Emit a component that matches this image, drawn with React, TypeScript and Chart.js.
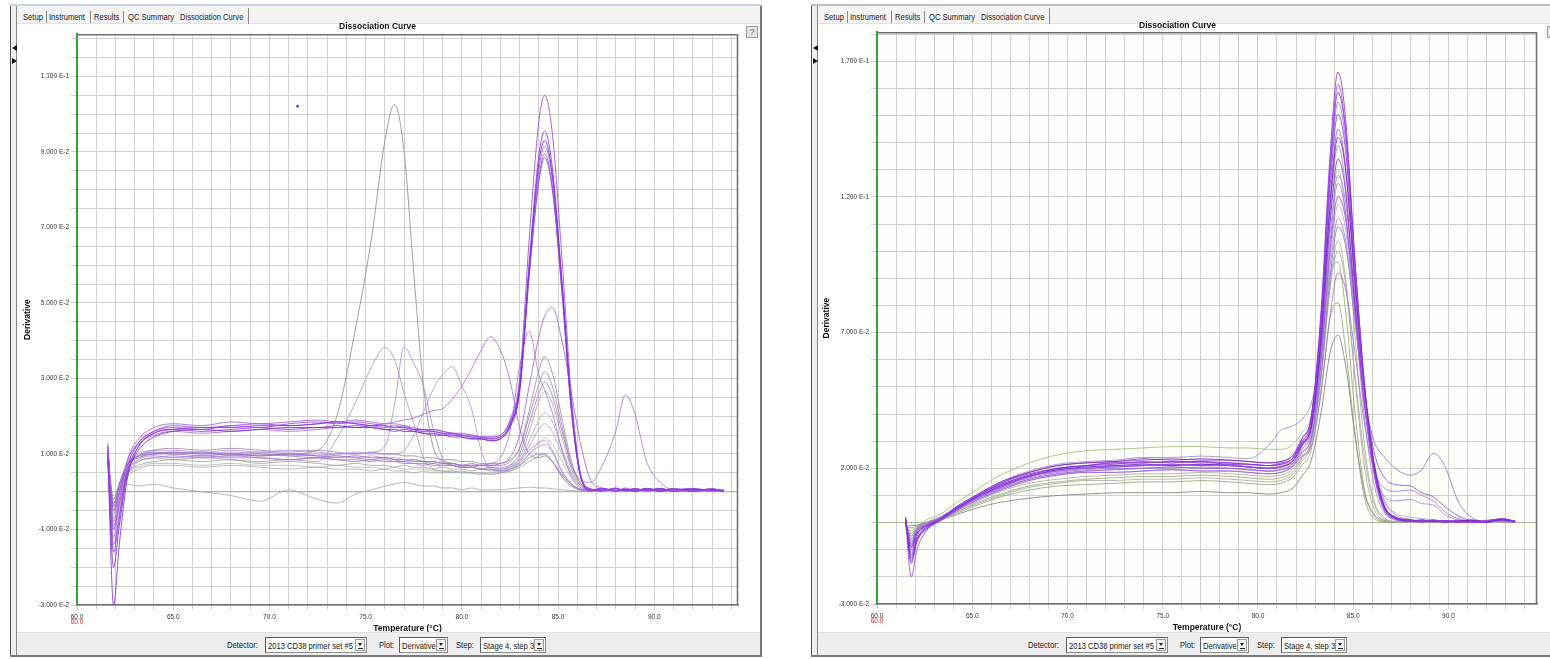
import { useEffect, useRef } from 'react';
import { Chart, registerables } from 'chart.js';

Chart.register(...registerables);

const SANS = '"Liberation Sans", Arial, sans-serif';

// ---------------------------------------------------------------------------
// Plate 1 – melt temperatures (°C) and derivative readings (units of 1E-3)
// ---------------------------------------------------------------------------
const TEMP_A = [61.6, 61.9, 62.2, 62.6, 63.2, 64, 65, 66.5, 68, 69.5, 71, 72.5, 73.5, 74.5, 75.3, 76, 76.5, 77, 77.5, 78, 78.5, 79, 79.5, 80, 80.5, 81, 81.5, 82, 82.5, 83, 83.5, 84, 84.3, 84.7, 85.2, 85.7, 86.2, 86.7, 87.3, 88, 88.5, 89, 89.6, 90.3, 91, 92, 93, 93.6];

const A_P1 = [12, -14, -6, 6, 13, 16, 17, 16.5, 17.5, 17, 18, 18.5, 18, 18.5, 18, 17.5, 17, 17.5, 16.5, 16, 16.5, 16, 15.5, 15, 15, 14.5, 14.5, 15, 19, 30, 67, 98, 105, 95, 62, 25, 4, 0.5, 0.8, 0.2, 1, 0.3, 0.8, 0, 0.6, 0.2, 0.8, 0];
const A_P2 = [10, -30, -14, 3, 12, 15.5, 16.5, 17, 17, 17.5, 17.5, 18, 18.5, 18, 17.5, 17.5, 17, 17, 16.5, 16.5, 16, 15.5, 15.5, 15, 14.5, 14.5, 14, 14.5, 18, 28, 61, 89, 95.5, 86, 56, 23, 4, 0.8, 0.3, 1, 0.2, 0.8, 0.3, 0.9, 0.1, 0.7, 0.4, 0.2];
const A_P3 = [8, -20, -9, 4, 11, 14.5, 16, 16.5, 16, 16.5, 17, 17, 17.5, 17, 17, 16.5, 16.5, 16, 16, 15.5, 15.5, 15, 15, 14.5, 14, 14, 13.5, 14, 17.5, 27, 59, 87, 93, 84, 55, 22, 3.5, 0.4, 0.9, 0.3, 0.7, 0.1, 0.9, 0.4, 0.8, 0.1, 0.6, 0.3];
const A_P4 = [13, -10, -3, 8, 14, 17, 18, 17.5, 18.5, 18, 18.5, 19, 18.5, 19, 18.5, 18, 18, 17.5, 17, 16.5, 16.5, 16, 15.5, 15.5, 15, 14.5, 14.5, 15, 18.5, 28, 59, 85, 91.5, 83, 55, 22, 3.5, 0.6, 0.2, 0.8, 0.4, 0.9, 0.2, 0.6, 0.3, 0.8, 0.2, 0.5];
const A_P5 = [11, -5, 0, 8, 13, 16, 17.5, 17, 17.5, 18, 17.5, 18, 18.5, 18, 17.5, 17, 17.5, 17, 16.5, 16, 16, 15.5, 15, 15, 14.5, 14, 14, 14.5, 17.5, 27, 58, 83, 89.5, 81, 53, 21, 3.5, 0.5, 0.8, 0.2, 0.6, 0.3, 0.8, 0.1, 0.5, 0.9, 0.3, 0.4];
const A_P6 = [9, -16, -7, 5, 12, 15.5, 16.5, 16, 16.5, 17, 16.5, 17, 17, 17.5, 17, 16.5, 16, 16.5, 16, 15.5, 15, 15, 14.5, 14.5, 14, 14, 13.5, 14, 17, 26, 57, 82, 88.5, 80, 53, 21, 3.5, 0.7, 0.3, 0.9, 0.2, 0.7, 0.4, 0.8, 0.2, 0.6, 0.5, 0.1];

const A_G1 = [11, -4, 2, 7, 9.5, 10.5, 10, 10.5, 9.5, 10, 9.5, 9, 9.5, 9, 8.5, 9, 8.5, 8, 8.5, 8, 7.5, 8, 7.5, 7, 7.5, 7, 7, 7, 8, 11.5, 21.5, 32, 35.8, 31.5, 19.5, 8, 2, 0.5, 0.2, 0.7, 0.3, 0.8, 0.1, 0.6, 0.4, 0.2, 0.7, 0.3];
const A_G2 = [12, -8, -1, 6, 9.5, 11, 11.5, 11, 11.5, 11, 10.5, 11, 10.5, 10, 10.5, 10, 10, 9.5, 9.5, 9, 9, 8.5, 8.5, 8, 8, 7.5, 7.5, 7.5, 8.5, 11.5, 20, 28.5, 31.8, 28, 17.5, 7, 2, 0.4, 0.8, 0.2, 0.6, 0.3, 0.9, 0.2, 0.5, 0.8, 0.1, 0.4];
const A_G3 = [9, -12, -4, 4, 8, 9, 9.5, 9, 9.5, 9, 8.5, 9, 8.5, 8.5, 8, 8.5, 8, 8, 7.5, 7.5, 7, 7, 7, 6.5, 6.5, 6, 6.5, 6, 7, 10, 18, 26, 29, 25.5, 16, 7, 3, 2.5, 7, 16, 25.7, 20.5, 8, 2.5, 0.5, 0.3, 0.8, 0.2];
const A_G4 = [8, -3, 1, 5, 7, 8, 8.5, 8, 8.5, 7.5, 8, 7.5, 7, 7.5, 7, 7, 6.5, 7, 6.5, 6.5, 6, 6.5, 6, 6, 5.5, 6, 5.5, 5.5, 6.5, 9, 16, 24, 26.5, 23.5, 14.5, 6, 1.5, 0.3, 0.7, 0.2, 0.6, 0.1, 0.7, 0.3, 0.8, 0.2, 0.5, 0.1];
const A_G5 = [6, -2, 1, 4, 6, 7, 7, 6.5, 7, 6.5, 6, 6.5, 6, 6, 5.5, 6, 5.5, 5.5, 5, 5.5, 5, 5, 5.5, 5, 5, 4.5, 5, 5, 6, 8, 13.5, 19, 21, 18.5, 11.5, 5, 1.5, 0.3, 0.6, 0.2, 0.5, 0.2, 0.6, 0.1, 0.4, 0.7, 0.2, 0.3];
const A_G6 = [10, -6, 0, 6, 9, 10, 10.5, 10, 10.5, 10, 9.5, 10, 9.5, 9, 9.5, 9, 9, 8.5, 8.5, 8, 8, 7.5, 7.5, 7, 7, 7, 6.5, 6.5, 7, 8.5, 12, 16.5, 18, 16, 10, 4.5, 1.5, 0.5, 0.2, 0.7, 0.3, 0.6, 0.2, 0.8, 0.3, 0.5, 0.1, 0.4];
const A_G7 = [7, -1, 2, 5, 6.5, 7.5, 7.5, 7, 7.5, 7, 7, 6.5, 7, 6.5, 6.5, 6, 6.5, 6, 6, 6, 5.5, 5.5, 5.5, 5, 5, 5, 5, 5, 5.5, 7, 10, 13, 14.3, 12.5, 8, 3.5, 1, 0.3, 0.6, 0.1, 0.5, 0.2, 0.6, 0.3, 0.1, 0.5, 0.3, 0.2];

const A_S1 = [10, -2, 2, 7, 9, 10, 10, 9.5, 10, 9.5, 10, 11, 20, 44, 67, 93, 102.6, 90, 58, 28, 12, 8, 7, 6.5, 6.5, 6, 6, 5.5, 6, 7, 9, 10, 10, 8, 4, 1.5, 0.5, 0.2, 0.6, 0.2, 0.5, 0.1, 0.6, 0.3, 0.5, 0.1, 0.4, 0.2];
const A_S2 = [9, -3, 1, 6, 8, 9, 8.5, 9, 8.5, 8, 8.5, 8, 14, 24, 33, 38.2, 35, 26, 18, 9, 6, 5.5, 5, 5.5, 5, 5, 4.5, 5, 5.5, 6.5, 8, 9.5, 10, 8, 4, 1.5, 0.4, 0.2, 0.6, 0.1, 0.5, 0.3, 0.7, 0.1, 0.4, 0.6, 0.2, 0.3];
const A_S3 = [10, -7, 0, 7, 9.5, 10.5, 10, 10.5, 10, 10.5, 10, 9.5, 10, 10, 10.5, 12, 23, 38.4, 34, 28, 17, 9, 7, 6.5, 6.5, 6, 6, 6, 6.5, 8, 11, 13, 13.5, 11, 5.5, 2, 0.6, 0.3, 0.7, 0.2, 0.4, 0.8, 0.2, 0.5, 0.3, 0.7, 0.1, 0.4];
const A_S4 = [11, -5, 1, 7, 10, 11, 11, 10.5, 11, 10.5, 11, 10.5, 10, 10.5, 10, 10, 10, 11, 15, 21, 27, 31, 33.1, 28, 22, 11, 6, 5.5, 6, 7.5, 10, 12, 12.5, 10.5, 5, 2, 0.5, 0.3, 0.8, 0.2, 0.5, 0.1, 0.7, 0.4, 0.2, 0.6, 0.3, 0.1];
const A_S5 = [12, -9, -2, 7, 12.5, 15, 16, 15.5, 16, 16.5, 16, 16.5, 17, 17, 17.5, 18, 18.5, 19, 19.5, 20.5, 21.5, 22, 24.5, 28, 32.5, 37.5, 41.1, 37.5, 29.5, 17, 10, 9, 9.5, 8, 4.5, 2, 0.6, 0.2, 0.8, 0.3, 0.6, 0.2, 0.5, 0.8, 0.2, 0.4, 0.7, 0.2];
const A_S6 = [9, -10, -3, 5, 8.5, 9.5, 9, 9.5, 9, 9, 8.5, 9, 8.5, 8, 8.5, 8, 8, 7.5, 7.5, 7, 7.5, 7, 7, 6.5, 6.5, 7, 7.5, 9, 16, 33, 42.4, 31, 27, 21, 11, 4, 1, 0.3, 0.7, 0.2, 0.6, 0.3, 0.8, 0.2, 0.5, 0.1, 0.6, 0.3];
const A_S7 = [10, -4, 2, 7, 9.5, 10, 10.5, 10, 10, 9.5, 10, 9.5, 9, 9.5, 9, 9, 8.5, 8.5, 8, 8, 8, 7.5, 7.5, 7, 7, 7, 7, 7.5, 9, 15, 28, 41, 46.5, 48.8, 40, 26, 12, 3, 1, 0.3, 0.7, 0.2, 0.6, 0.3, 0.8, 0.2, 0.5, 0.1];
const A_Z1 = [2, -3, 0, 2, 1.5, 2, 1, 0, -1, -2.5, 0.5, -2, -3, -0.5, 0.5, 1.5, 2, 2.5, 2, 1.5, 1.5, 1, 1, 0.5, 1, 0.5, 0.5, 0.5, 0.8, 1, 1.2, 1, 1, 0.8, 0.5, 0.3, 0.2, 0.1, 0.5, 0.2, 0.4, 0.1, 0.5, 0.2, 0.3, 0.1, 0.4, 0.2];

// a single stray reading (°C, derivative)
const A_STRAY = { x: 71.46, y: 0.1021 };

// ---------------------------------------------------------------------------
// Plate 2 – melt temperatures (°C) and derivative readings (units of 1E-3)
// ---------------------------------------------------------------------------
const TEMP_B = [61.5, 61.8, 62.1, 62.6, 63.3, 64.2, 65.3, 66.5, 68, 69.5, 71, 72.5, 74, 75.5, 77, 78.5, 79.5, 80.5, 81.2, 81.8, 82.3, 82.8, 83.3, 83.8, 84.2, 84.6, 85.1, 85.6, 86.1, 86.6, 87.2, 88, 88.6, 89.2, 89.8, 90.5, 91.2, 92, 92.8, 93.5];

const B_R1 = [1, -12, -6, -1.5, 1.5, 5.5, 10, 14, 17.5, 20, 21, 21.5, 22.5, 22, 22.5, 21.5, 21.5, 21, 21.5, 23.5, 30.5, 39, 77, 137, 166, 149, 96, 50, 20, 6, 1.5, 0.5, 1, 0.3, 0.8, 0.2, 0.5, 0, 1.2, 0.5];
const B_R2 = [0, -8, -3, -1, 1, 5, 9.5, 13, 17, 19, 20, 20.5, 21, 21.5, 21, 21, 20.5, 20, 20.5, 22.5, 29.5, 38, 74, 133, 161.5, 145, 94, 48, 19, 5.5, 1.5, 0.8, 0.2, 1, 0.4, 0.7, 0, 0.6, 1.5, 0.6];
const B_R3 = [2, -15, -7, -2.5, 1, 6, 10.5, 15, 18.5, 21, 22, 22.5, 23.5, 23, 23.5, 23, 22.5, 22, 22.5, 24.5, 31, 39, 74.5, 131, 158.5, 144, 95, 51, 22, 7, 2, 1, 0.5, 0.8, 0.2, 0.6, 0.9, 0.2, 1, 0.4];
const B_R4 = [-1, -6, -2.5, -0.5, 1.5, 5, 9, 12.5, 16, 18, 19, 19.5, 20, 20.5, 20, 20, 19.5, 19, 19.5, 21.5, 28, 36, 71, 128, 155, 140, 90, 46, 18, 5, 1.2, 0.4, 0.9, 0.2, 0.7, 0, 0.5, 0.8, 0.3, 0.2];
const B_R5 = [1, -20, -10, -3, 0.5, 5, 10, 14, 17.5, 20, 21, 22, 22, 22.5, 22, 22, 21.5, 21, 21.5, 23.5, 29.5, 37.5, 71, 125, 150.5, 137, 90, 49, 21, 6.5, 1.8, 0.6, 1, 0.3, 0.8, 0.4, 0.2, 0.7, 1.4, 0.5];
const B_R6 = [0.5, -10, -4.5, -1, 1, 5.5, 9.5, 13.5, 17, 19.5, 20, 21, 21, 21.5, 21, 21.5, 20.5, 20, 20.5, 22.5, 28.5, 36, 68, 120, 145, 131, 85, 45, 18, 5, 1.5, 0.8, 0.3, 0.6, 0.1, 0.9, 0.4, 0.2, 1, 0.3];
const B_R7 = [-0.5, -5, -2, 0, 2, 5.5, 9, 12.5, 16, 18, 19, 19.5, 20, 20, 20.5, 20, 19.5, 19, 19.5, 21, 27, 34, 65, 115, 139, 124, 78, 38, 14, 4, 1, 0.3, 0.8, 0.2, 0.5, 0, 0.6, 0.3, 0.9, 0.1];
const B_R8 = [2, -14, -6.5, -2, 1, 5.5, 10, 14.5, 18, 20, 21, 22, 22, 22.5, 22.5, 22, 21.5, 21, 22, 23.5, 29, 35.5, 64.5, 111.5, 134, 122, 80, 44, 19, 6, 2, 1, 0.4, 0.8, 0.3, 0.6, 0.2, 0.8, 1.1, 0.3];
const B_R9 = [0, -9, -4, -1.5, 0.5, 4.5, 8.5, 12, 15.5, 17.5, 18.5, 18.5, 19, 19.5, 19, 19, 18.5, 18, 18.5, 20.5, 25.5, 31.5, 59, 104, 125, 114, 76, 42, 18, 6, 2, 0.6, 0.2, 0.7, 0.4, 0.2, 0.8, 0.3, 0.6, 0.2];
const B_R10 = [1, -7, -3, -0.5, 1.5, 5.5, 9.5, 13.5, 17, 19, 20.5, 20.5, 21, 21.5, 21, 21, 20.5, 20, 20.5, 22.5, 27, 32.5, 57.5, 98, 117, 108, 75, 43, 20, 8, 3.5, 2, 1.5, 1, 0.5, 0.3, 0.6, 0.2, 0.9, 0.3];
const B_R11 = [0.5, -11, -5, -1.5, 1, 5, 9, 13, 16.5, 18.5, 19.5, 20, 20, 20.5, 20, 20, 19.5, 19, 19.5, 21.5, 26, 31, 54, 91, 109, 102, 74, 46, 30, 24.5, 20, 17.5, 19.5, 25.5, 21, 8, 2, 0.5, 1, 0.3];
const B_R12 = [-1, -4, -2, 0, 1.5, 4.5, 8, 11.5, 14.5, 16, 17, 17.5, 18, 18, 18.5, 18, 17.5, 17, 17.5, 19.5, 24, 30, 52, 88, 104, 90, 52, 20, 5, 1, 0.3, 0.6, 0.1, 0.5, 0.2, 0.6, 0.1, 0.4, 0.8, 0.2];
const B_R13 = [-2, -3, -1.5, 0, 1.5, 4, 7.5, 10.5, 13.5, 15, 16, 16.5, 17, 17, 17.5, 17, 16.5, 16, 16.5, 18.5, 23.5, 30, 55, 92, 96, 78, 40, 12, 2.5, 0.5, 0.2, 0.6, 0, 0.4, 0.1, 0.5, 0, 0.3, 0.7, 0.1];
const B_R14 = [0, -8, -3.5, -1, 1, 4.5, 8.5, 12, 15.5, 17.5, 18.5, 18.5, 19, 19.5, 19, 19, 18.5, 18, 18.5, 20.5, 24.5, 28, 47, 77, 92, 86, 62, 36, 19, 13, 11.5, 12, 10, 8, 4, 1.5, 0.5, 0.2, 0.9, 0.3];
const B_R15 = [-1.5, -2, -1, 0, 1, 3.5, 6.5, 9.5, 12, 13.5, 14, 14.5, 15, 15, 15.5, 15, 14.5, 14, 14.5, 16.5, 21, 27, 48, 76, 81, 64, 32, 9, 1.5, 0.3, 0, 0.4, 0.1, 0.3, 0, 0.4, 0.1, 0.2, 0.5, 0];
const B_R16 = [-2, -1, -1, 0, 1, 3, 5.5, 7.5, 9, 10, 10.5, 11, 11, 11, 11.5, 11, 11, 10.5, 11, 12.5, 17, 23, 40, 63, 69, 58, 32, 11, 3, 0.8, 0.2, 0.5, 0, 0.3, 0.2, 0.5, 0, 0.3, 0.6, 0.1];
const B_R17 = [1, -6, -2.5, 0, 2, 6, 10.5, 15, 19, 21.5, 22.5, 23, 24, 24, 24.5, 24, 23.5, 28, 34, 35.5, 38, 44, 62, 95, 112, 104, 74, 44, 22, 9, 3, 1.2, 0.6, 1, 0.3, 0.7, 0.2, 0.6, 1.2, 0.4];
const B_R18 = [0, -4, -1.5, 1, 3, 7.5, 12.5, 17.5, 22, 25, 26.5, 27, 27.5, 28, 28, 27.5, 27.5, 27, 27, 28.5, 33, 40, 70, 113, 130, 114, 68, 28, 8, 2, 0.5, 0.8, 0.2, 0.6, 0.1, 0.5, 0.2, 0.4, 0.9, 0.2];
const B_R19 = [1.5, -13, -6, -2, 1, 5.5, 10, 14.5, 18.5, 21, 22, 22.5, 23, 23.5, 23, 23, 22.5, 22, 22.5, 24.5, 29.5, 35, 60, 101, 120, 112, 80, 48, 26, 17, 14, 13.5, 11, 9.5, 6, 2.5, 0.8, 0.3, 1, 0.4];
const B_R20 = [0.5, -9, -4, -1, 1, 5, 9.5, 13.5, 17, 19.5, 20.5, 21, 21.5, 21, 21.5, 21, 20.5, 20, 20.5, 22.5, 28.5, 35.5, 67, 118, 142, 130, 88, 49, 21, 6.5, 2, 0.7, 0.3, 0.8, 0.2, 0.5, 0.9, 0.3, 1.3, 0.4];
const B_R21 = [0, -7, -3, -0.5, 1.5, 5, 9.5, 13, 17, 19, 20, 20.5, 21, 21, 21.5, 21, 20.5, 20, 21, 22.5, 28, 34, 62, 107, 128, 118, 82, 46, 20, 10, 8, 8.5, 7, 6.5, 3, 1, 0.4, 0.2, 0.7, 0.2];
const B_R22 = [-1, -5, -2, 0, 1, 4, 7, 10, 13, 14.5, 15.5, 15.5, 16, 16, 16.5, 16, 15.5, 15, 15.5, 17.5, 22.5, 29, 53, 87, 100, 88, 54, 24, 7, 1.5, 0.4, 0.7, 0.1, 0.5, 0.2, 0.4, 0, 0.3, 0.8, 0.2];

// ---------------------------------------------------------------------------
// Axis ticks
// ---------------------------------------------------------------------------
const X_LABEL_VALUES = [60, 65, 70, 75, 80, 85, 90];
const X_LABELS = ['60.0', '65.0', '70.0', '75.0', '80.0', '85.0', '90.0'];

const A_Y_MAJOR = [-0.03, -0.01, 0.01, 0.03, 0.05, 0.07, 0.09, 0.11];
const A_Y_LABELS = ['-3.000 E-2', '-1.000 E-2', '1.000 E-2', '3.000 E-2', '5.000 E-2', '7.000 E-2', '9.000 E-2', '1.100 E-1'];

const B_Y_MAJOR = [-0.03, 0.02, 0.07, 0.12, 0.17];
const B_Y_LABELS = ['-3.000 E-2', '2.000 E-2', '7.000 E-2', '1.200 E-1', '1.700 E-1'];

const TITLE = 'Dissociation Curve';
const X_TITLE = 'Temperature (°C)';
const Y_TITLE = 'Derivative';

const TABS = ['Setup', 'Instrument', 'Results', 'QC Summary', 'Dissociation Curve'];
const DETECTOR = '2013 CD38 primer set #5';
const PLOT_KIND = 'Derivative';
const STEP = 'Stage 4, step 3';

// ---------------------------------------------------------------------------
type Trace = { values: number[]; color: string };

type PlotSpec = {
  temps: number[];
  traces: Trace[];
  xMax: number;
  yMax: number;
  yStep: number;
  yMajor: number[];
  yLabels: string[];
  background: string;
  zeroColor: string;
  stray?: { x: number; y: number };
  canvas: { left: number; top: number; width: number; height: number };
  yAxisWidth: number;
  yTitlePad: number;
  titlePad: { top: number; bottom: number };
  padRight: number;
};

const PLATE_A: PlotSpec = {
  temps: TEMP_A,
  traces: [
    { values: A_P1, color: '#9a48e0d8' },
    { values: A_P2, color: '#8530d4d8' },
    { values: A_P3, color: '#7a2ac8d8' },
    { values: A_P4, color: '#a060e0d8' },
    { values: A_P5, color: '#9550dcd8' },
    { values: A_P6, color: '#8a3cd4d8' },
    { values: A_S7, color: '#9c5ce0cc' },
    { values: A_S6, color: '#a672dacc' },
    { values: A_S5, color: '#a068dccc' },
    { values: A_S4, color: '#b48ae0cc' },
    { values: A_S3, color: '#ae82dccc' },
    { values: A_S2, color: '#9c9c9ccc' },
    { values: A_S1, color: '#8a8a8acc' },
    { values: A_G3, color: '#a272d6cc' },
    { values: A_G2, color: '#9a80b8cc' },
    { values: A_G1, color: '#8e8e8ecc' },
    { values: A_G4, color: '#a0a0a0cc' },
    { values: A_G5, color: '#abababcc' },
    { values: A_G6, color: '#ad98c4cc' },
    { values: A_G7, color: '#b4b4b4cc' },
    { values: A_Z1, color: '#a5a5a5cc' },
  ],
  xMax: 94.35,
  yMax: 0.1212,
  yStep: 0.005,
  yMajor: A_Y_MAJOR,
  yLabels: A_Y_LABELS,
  background: '#ffffff',
  zeroColor: '#a8a8a8',
  stray: A_STRAY,
  canvas: { left: 17, top: 22, width: 743, height: 614 },
  yAxisWidth: 60,
  yTitlePad: 6,
  titlePad: { top: 0, bottom: 2 },
  padRight: 22,
};

const PLATE_B: PlotSpec = {
  temps: TEMP_B,
  traces: [
    { values: B_R1, color: '#8a2be2cc' },
    { values: B_R2, color: '#9b4de0cc' },
    { values: B_R3, color: '#7a22c8cc' },
    { values: B_R20, color: '#6e1cc4cc' },
    { values: B_R5, color: '#8c3ad6cc' },
    { values: B_R4, color: '#a066ddcc' },
    { values: B_R6, color: '#9450dacc' },
    { values: B_R8, color: '#8230d0cc' },
    { values: B_R21, color: '#a878dccc' },
    { values: B_R9, color: '#a45fe0cc' },
    { values: B_R19, color: '#8a48d6cc' },
    { values: B_R10, color: '#b898e0cc' },
    { values: B_R17, color: '#9a86c4cc' },
    { values: B_R11, color: '#8472c8cc' },
    { values: B_R14, color: '#a070d4cc' },
    { values: B_R7, color: '#9c8cb4cc' },
    { values: B_R18, color: '#9cb87acc' },
    { values: B_R12, color: '#a2ab92cc' },
    { values: B_R22, color: '#a4a4a4cc' },
    { values: B_R13, color: '#93a872cc' },
    { values: B_R15, color: '#8e9e80cc' },
    { values: B_R16, color: '#7c7c7ccc' },
  ],
  xMax: 94.65,
  yMax: 0.1807,
  yStep: 0.01,
  yMajor: B_Y_MAJOR,
  yLabels: B_Y_LABELS,
  background: '#fefefb',
  zeroColor: '#a9b99a',
  canvas: { left: 818, top: 19, width: 741, height: 616 },
  yAxisWidth: 59,
  yTitlePad: 4,
  titlePad: { top: 2, bottom: 1 },
  padRight: 22,
};

// Plot background, top/right frame edges, green value axis and the red
// duplicate of the start temperature under the first x label.
const plotFrame = {
  id: 'plotFrame',
  beforeDraw(chart: any, _args: unknown, opts: any) {
    const { ctx, chartArea: a } = chart;
    ctx.save();
    ctx.fillStyle = opts.background;
    ctx.fillRect(a.left, a.top, a.right - a.left, a.bottom - a.top);
    ctx.restore();
  },
  afterDraw(chart: any, _args: unknown, opts: any) {
    const { ctx, chartArea: a, scales } = chart;
    ctx.save();
    ctx.strokeStyle = '#6e6e6e';
    ctx.lineWidth = 1.5;
    ctx.beginPath();
    ctx.moveTo(a.left, a.top + 0.5);
    ctx.lineTo(a.right - 0.5, a.top + 0.5);
    ctx.lineTo(a.right - 0.5, a.bottom);
    ctx.stroke();
    ctx.strokeStyle = '#3d9e3d';
    ctx.lineWidth = 2;
    ctx.beginPath();
    ctx.moveTo(a.left, a.top);
    ctx.lineTo(a.left, a.bottom);
    ctx.stroke();
    ctx.fillStyle = '#e02828';
    ctx.font = `6.5px ${SANS}`;
    ctx.textAlign = 'center';
    ctx.textBaseline = 'middle';
    ctx.fillText(X_LABELS[0], scales.x.getPixelForValue(X_LABEL_VALUES[0]), a.bottom + 17);
    ctx.restore();
  },
};

function buildConfig(spec: PlotSpec) {
  const datasets: any[] = spec.traces.map((tr) => ({
    data: spec.temps.map((t, i) => ({ x: t, y: tr.values[i] / 1000 })),
    borderColor: tr.color,
    borderWidth: 1,
    pointRadius: 0,
    cubicInterpolationMode: 'monotone',
    fill: false,
  }));
  datasets.push({
    data: [{ x: 60, y: 0 }, { x: spec.xMax, y: 0 }],
    borderColor: spec.zeroColor,
    borderWidth: 1,
    pointRadius: 0,
    fill: false,
  });
  if (spec.stray) {
    datasets.push({
      data: [spec.stray],
      showLine: false,
      pointRadius: 1.3,
      pointBorderWidth: 0,
      pointBackgroundColor: '#3a3ac4',
    });
  }

  const tickFont = { family: SANS, size: 6.5 };
  const titleFont = { family: SANS, size: 8.5, weight: 'bold' as const };

  return {
    type: 'line',
    data: { datasets },
    options: {
      animation: false,
      responsive: false,
      events: [],
      layout: { padding: { left: 0, top: 0, bottom: 0, right: spec.padRight } },
      plugins: {
        legend: { display: false },
        tooltip: { enabled: false },
        title: {
          display: true,
          text: TITLE,
          color: '#111',
          font: titleFont,
          padding: spec.titlePad,
        },
        plotFrame: { background: spec.background },
      },
      scales: {
        x: {
          type: 'linear',
          min: 60,
          max: spec.xMax,
          afterBuildTicks: (s: any) => {
            const t: { value: number }[] = [];
            for (let v = 60; v <= spec.xMax; v += 1) t.push({ value: v });
            s.ticks = t;
          },
          afterFit: (s: any) => {
            s.height = 31;
          },
          ticks: {
            autoSkip: false,
            maxRotation: 0,
            minRotation: 0,
            padding: 3,
            color: '#333',
            font: tickFont,
            callback: (v: number | string) => {
              const i = X_LABEL_VALUES.indexOf(Math.round(Number(v) * 10) / 10);
              return i >= 0 ? X_LABELS[i] : '';
            },
          },
          grid: { color: '#d0d0d0', lineWidth: 1, tickLength: 5, drawTicks: true },
          border: { color: '#6e6e6e', width: 1.5 },
          title: {
            display: true,
            text: X_TITLE,
            color: '#111',
            font: titleFont,
            padding: { top: 0, bottom: 2 },
          },
        },
        y: {
          type: 'linear',
          min: -0.03,
          max: spec.yMax,
          afterBuildTicks: (s: any) => {
            const n = Math.floor((spec.yMax + 0.03) / spec.yStep + 1e-6);
            const t: { value: number }[] = [];
            for (let k = 0; k <= n; k++) t.push({ value: Math.round((-0.03 + k * spec.yStep) * 1e5) / 1e5 });
            s.ticks = t;
          },
          afterFit: (s: any) => {
            s.width = spec.yAxisWidth;
          },
          ticks: {
            autoSkip: false,
            padding: 2,
            color: '#333',
            font: tickFont,
            callback: (v: number | string) => {
              const i = spec.yMajor.findIndex((m) => Math.abs(m - Number(v)) < 1e-7);
              return i >= 0 ? spec.yLabels[i] : '';
            },
          },
          grid: { color: '#d0d0d0', lineWidth: 1, tickLength: 6, drawTicks: true },
          border: { color: '#3d9e3d', width: 2 },
          title: {
            display: true,
            text: Y_TITLE,
            color: '#111',
            font: titleFont,
            padding: { top: spec.yTitlePad, bottom: 0 },
          },
        },
      },
    },
    plugins: [plotFrame],
  };
}

function MeltChart({ spec }: { spec: PlotSpec }) {
  const ref = useRef<HTMLCanvasElement | null>(null);
  useEffect(() => {
    const el = ref.current;
    if (!el) return;
    const chart = new Chart(el, buildConfig(spec) as any);
    return () => chart.destroy();
  }, [spec]);
  const c = spec.canvas;
  return (
    <canvas
      ref={ref}
      width={c.width}
      height={c.height}
      style={{ position: 'absolute', left: c.left, top: c.top, width: c.width, height: c.height }}
    />
  );
}

const box = (left: number, top: number, width: number, height: number, extra: React.CSSProperties = {}): React.CSSProperties => ({
  position: 'absolute',
  left,
  top,
  width,
  height,
  boxSizing: 'border-box',
  ...extra,
});

// narrow dialog text: a regular face squeezed horizontally
const squeezed = (size: number): React.CSSProperties => ({
  font: `${size}px ${SANS}`,
  color: '#222',
  whiteSpace: 'nowrap',
  lineHeight: '12px',
  transform: 'scaleX(0.8)',
  transformOrigin: 'left center',
});

function Dropdown({ x, w, text }: { x: number; w: number; text: string }) {
  return (
    <div
      style={box(x, 637, w, 16, {
        background: '#fff',
        border: '1px solid #8c8c8c',
        borderTopColor: '#5c5c5c',
        borderLeftColor: '#5c5c5c',
        overflow: 'hidden',
      })}
    >
      <div style={box(2, 1, w, 13, { ...squeezed(9.5), lineHeight: '13px', color: '#111' })}>{text}</div>
      <div style={box(w - 13, 1, 10, 12, { background: '#f2f2f2', border: '1px solid #9a9a9a' })}>
        <div
          style={{
            position: 'absolute',
            left: 1.5,
            top: 3,
            width: 0,
            height: 0,
            borderLeft: '2.5px solid transparent',
            borderRight: '2.5px solid transparent',
            borderTop: '3px solid #222',
          }}
        />
        <div style={box(1.5, 7.5, 5, 1, { background: '#222' })} />
      </div>
    </div>
  );
}

const TAB_X = [23, 49, 94, 128, 180];
const TAB_SEP_X = [46, 90, 123, 248];

function Panel({ dx, spec, edgeColor }: { dx: number; spec: PlotSpec; edgeColor: string }) {
  const X = (v: number) => v + dx;
  return (
    <>
      {/* window top edge and tab strip */}
      <div style={box(X(10), 4, 752, 2, { background: edgeColor })} />
      <div style={box(X(17), 6, 743, 18, { background: '#f3f3f3', borderBottom: '1px solid #e2e2e2' })} />
      {TABS.map((t, i) => (
        <div key={t} style={box(X(TAB_X[i]), 11, 90, 12, squeezed(9.5))}>
          {t}
        </div>
      ))}
      {TAB_SEP_X.map((x, i) => (
        <div key={i} style={box(X(x), i === 3 ? 8 : 11, 1, i === 3 ? 16 : 12, { background: '#8a8a8a' })} />
      ))}

      {/* side splitter with collapse arrows */}
      <div style={box(X(10), 6, 7, 651, { background: '#eeeeee', borderLeft: '1px solid #555', borderRight: '1px solid #888' })} />
      <div
        style={{
          position: 'absolute',
          left: X(12),
          top: 45,
          width: 0,
          height: 0,
          borderTop: '3px solid transparent',
          borderBottom: '3px solid transparent',
          borderRight: '5px solid #111',
        }}
      />
      <div
        style={{
          position: 'absolute',
          left: X(12),
          top: 58,
          width: 0,
          height: 0,
          borderTop: '3px solid transparent',
          borderBottom: '3px solid transparent',
          borderLeft: '5px solid #111',
        }}
      />

      {/* right window edge */}
      <div style={box(X(760), 6, 2, 651, { background: '#7a7a7a' })} />

      {/* help button */}
      <div
        style={box(X(746), 26, 12, 12, {
          background: '#e6e6e6',
          border: '1px solid #9c9c9c',
          font: `9px ${SANS}`,
          color: '#666',
          textAlign: 'center',
          lineHeight: '10px',
        })}
      >
        ?
      </div>

      <MeltChart spec={spec} />

      {/* selector bar */}
      <div style={box(X(17), 632, 743, 23, { background: '#ededed', borderTop: '1px solid #e0e0e0' })} />
      <div style={box(X(10), 655, 752, 2, { background: '#7a7a7a' })} />
      <div style={box(X(227), 639, 40, 12, squeezed(9.5))}>Detector:</div>
      <Dropdown x={X(265)} w={102} text={DETECTOR} />
      <div style={box(X(379), 639, 20, 12, squeezed(9.5))}>Plot:</div>
      <Dropdown x={X(399)} w={49} text={PLOT_KIND} />
      <div style={box(X(456), 639, 24, 12, squeezed(9.5))}>Step:</div>
      <Dropdown x={X(480)} w={66} text={STEP} />
    </>
  );
}

export default function App() {
  return (
    <div
      style={{
        position: 'absolute',
        left: 0,
        top: 0,
        width: 1550,
        height: 659,
        overflow: 'hidden',
        background: '#ffffff',
        fontFamily: SANS,
      }}
    >
      <Panel dx={0} spec={PLATE_A} edgeColor="#c6d4e6" />
      <Panel dx={801} spec={PLATE_B} edgeColor="#bdbdbd" />
    </div>
  );
}
